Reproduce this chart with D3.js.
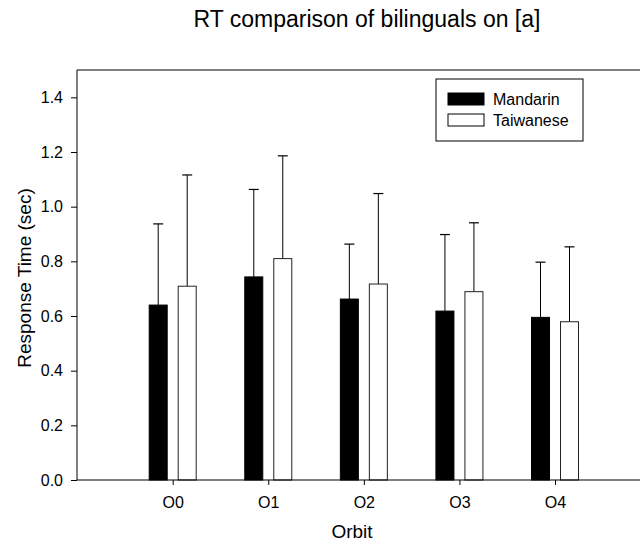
<!DOCTYPE html>
<html>
<head>
<meta charset="utf-8">
<script src="https://cdn.jsdelivr.net/npm/d3@7"></script>
<style>
  body { margin: 0; background: #fff; }
  text { font-family: "Liberation Sans", Arial, sans-serif; fill: #000; }
</style>
</head>
<body>
<div id="chart"></div>
<script>
const orbits = ["O0", "O1", "O2", "O3", "O4"];
const series = ["Mandarin", "Taiwanese"];
const mandarin = [0.640, 0.743, 0.662, 0.618, 0.595];
const taiwanese = [0.709, 0.810, 0.717, 0.689, 0.579];
// upper end of the error bars
const mandarinHi = [0.937, 1.063, 0.863, 0.898, 0.797];
const taiwaneseHi = [1.116, 1.186, 1.048, 0.941, 0.853];
const yTicks = [0.0, 0.2, 0.4, 0.6, 0.8, 1.0, 1.2, 1.4];

const width = 641, height = 545;
const margin = {top: 70, right: 1, bottom: 65, left: 77};

const svg = d3.select("#chart").append("svg")
    .attr("width", width)
    .attr("height", height);

const y = d3.scaleLinear()
    .domain([0, 1.5])
    .range([height - margin.bottom, margin.top]);

// orbits are spaced ~96px apart starting one step right of the y axis
const x = d3.scalePoint()
    .domain(orbits)
    .range([172.7, 555]);

const barW = 18, offset = 14.5, capW = 10;

const data = orbits.map((o, i) => ({
    orbit: o,
    vals: [
        {s: 0, v: mandarin[i], hi: mandarinHi[i]},
        {s: 1, v: taiwanese[i], hi: taiwaneseHi[i]}
    ]
}));

const g = svg.append("g");

// error bars first, bars drawn over them
data.forEach(d => {
    d.vals.forEach(b => {
        const cx = x(d.orbit) + (b.s === 0 ? -offset : offset);
        g.append("line")
            .attr("x1", cx).attr("x2", cx)
            .attr("y1", y(b.v)).attr("y2", y(b.hi))
            .attr("stroke", "#000").attr("stroke-width", 1);
        g.append("line")
            .attr("x1", cx - capW / 2).attr("x2", cx + capW / 2)
            .attr("y1", y(b.hi)).attr("y2", y(b.hi))
            .attr("stroke", "#000").attr("stroke-width", 1.2);
        g.append("rect")
            .attr("x", cx - barW / 2)
            .attr("y", y(b.v))
            .attr("width", barW)
            .attr("height", y(0) - y(b.v))
            .attr("fill", b.s === 0 ? "#000" : "#fff")
            .attr("stroke", b.s === 0 ? "#000" : "#222")
            .attr("stroke-width", 1);
    });
});

// frame: top line, plus the two axes below
svg.append("line")
    .attr("x1", margin.left).attr("x2", width - margin.right)
    .attr("y1", y(1.5)).attr("y2", y(1.5))
    .attr("stroke", "#000");

const yAxis = svg.append("g")
    .attr("transform", `translate(${margin.left},0)`)
    .call(d3.axisLeft(y).tickValues(yTicks).tickSize(6).tickPadding(8).tickFormat(d3.format(".1f")));
yAxis.select(".domain").attr("d", `M0,${y(0)}V${y(1.5)}`);
yAxis.selectAll("text").attr("font-size", 16).attr("font-family", null);

const xAxis = svg.append("g")
    .attr("transform", `translate(0,${y(0)})`)
    .call(d3.axisBottom(x).tickSize(5).tickPadding(12));
xAxis.select(".domain").attr("d", `M${margin.left},0H${width - margin.right}`);
xAxis.selectAll("text").attr("font-size", 16).attr("font-family", null);
svg.selectAll(".domain, .tick line").attr("stroke", "#000");

// titles
svg.append("text")
    .attr("x", 367).attr("y", 27)
    .attr("text-anchor", "middle")
    .attr("font-size", 23)
    .text("RT comparison of bilinguals on [a]");

svg.append("text")
    .attr("x", 352).attr("y", 538)
    .attr("text-anchor", "middle")
    .attr("font-size", 19)
    .text("Orbit");

svg.append("text")
    .attr("transform", `translate(31,278) rotate(-90)`)
    .attr("text-anchor", "middle")
    .attr("font-size", 19)
    .text("Response Time (sec)");

// legend
const leg = svg.append("g").attr("transform", "translate(436,79)");
leg.append("rect")
    .attr("width", 147).attr("height", 62)
    .attr("fill", "#fff").attr("stroke", "#000");
series.forEach((s, i) => {
    leg.append("rect")
        .attr("x", 12).attr("y", 14 + i * 21)
        .attr("width", 36).attr("height", 12)
        .attr("fill", i === 0 ? "#000" : "#fff")
        .attr("stroke", "#000");
    leg.append("text")
        .attr("x", 57).attr("y", 26 + i * 21)
        .attr("font-size", 16)
        .text(s);
});
</script>
</body>
</html>
